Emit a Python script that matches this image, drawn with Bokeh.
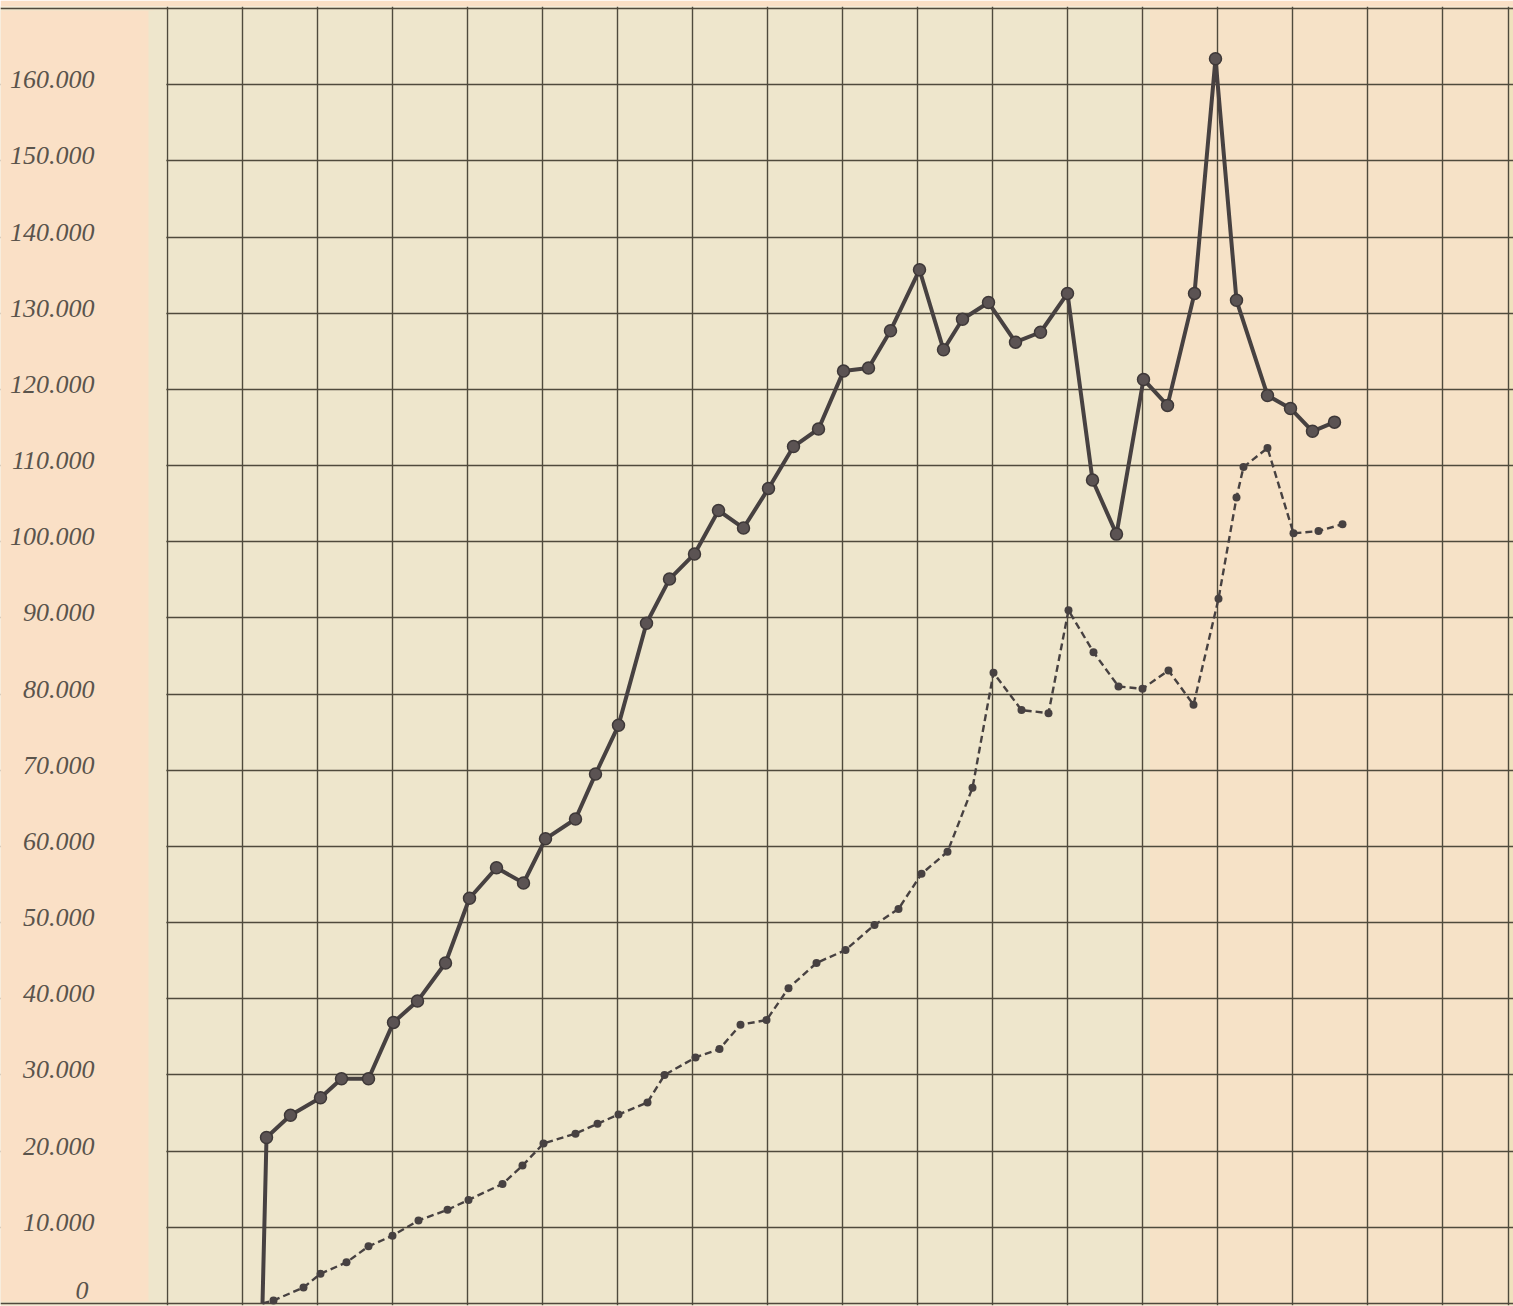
from bokeh.plotting import figure
from bokeh.models import Range1d, FixedTicker, BoxAnnotation, LabelSet, ColumnDataSource
from bokeh.embed import file_html
from bokeh.resources import INLINE

# ---- data ----
# x in "year steps" (one grid column = 3 steps)
solid_x = [3.8, 3.96, 4.92, 6.12, 6.96, 8.04, 9.04, 10.0, 11.12, 12.08, 13.16, 14.24,
           15.12, 16.32, 17.12, 18.04, 19.16, 20.08, 21.08, 22.04, 23.04, 24.04, 25.04,
           26.04, 27.04, 28.04, 28.92, 30.08, 31.04, 31.8, 32.84, 33.92, 34.92, 36.0,
           37.0, 37.96, 39.04, 40.0, 41.08, 41.92, 42.76, 44.0, 44.92, 45.8, 46.68]
solid_y = [0, 21800, 24700, 27000, 29500, 29500, 36900, 39700, 44700, 53200, 57200, 55200,
           61000, 63600, 69500, 75900, 89300, 95100, 98400, 104100, 101800, 107000, 112500,
           114800, 122400, 122800, 127700, 135700, 125200, 129200, 131400, 126200, 127500,
           132600, 108100, 101000, 121300, 117900, 132600, 163400, 131700, 119200, 117500,
           114500, 115700]

dashed_x = [3.8, 4.24, 5.44, 6.12, 7.16, 8.04, 9.0, 10.04, 11.2, 12.04, 13.4, 14.2, 15.04,
            16.32, 17.2, 18.04, 19.2, 19.88, 21.12, 22.08, 22.92, 23.96, 24.84, 25.96,
            27.12, 28.28, 29.24, 30.16, 31.2, 32.2, 33.04, 34.16, 35.24, 36.04, 37.04,
            38.04, 39.0, 40.04, 41.04, 42.04, 42.76, 43.04, 44.0, 45.04, 46.04, 47.0]
dashed_y = [0, 400, 2100, 3900, 5400, 7500, 8900, 10900, 12300, 13600, 15700, 18100, 21000,
            22300, 23600, 24800, 26400, 30000, 32300, 33400, 36600, 37200, 41400, 44700,
            46400, 49700, 51800, 56400, 59300, 67700, 82800, 77900, 77500, 91000, 85500,
            81000, 80700, 83100, 78600, 92500, 105800, 109800, 112300, 101100, 101400, 102300]

tick_values = [0, 10000, 20000, 30000, 40000, 50000, 60000, 70000, 80000, 90000,
               100000, 110000, 120000, 130000, 140000, 150000, 160000]
tick_labels = ["0", "10.000", "20.000", "30.000", "40.000", "50.000", "60.000", "70.000",
               "80.000", "90.000", "100.000", "110.000", "120.000", "130.000", "140.000",
               "150.000", "160.000"]
Y_TOP = 170000
X_END = 53.64                      # right edge of the ruled sheet
column_steps = [0, 3, 6, 9, 12, 15, 18, 21, 24, 27, 30, 33, 36, 39, 42, 45, 48, 51, X_END]

INK = "#474141"
GRID = "#4f4a3c"
PAPER = "#eee6cc"
PEACH = "#fae0c6"

PX_X = 25.0                       # pixels per x step
PX_Y = 1295.0 / Y_TOP             # pixels per unit of y
LEFT_COL = 167 / PX_X             # width of the label column, in x steps

p = figure(width=1513, height=1306, output_backend="svg", toolbar_location=None,
           x_range=Range1d(-LEFT_COL, X_END + 5 / PX_X),
           y_range=Range1d(-2 / PX_Y, Y_TOP + 2 / PX_Y),
           min_border_left=0, min_border_right=0, min_border_top=6, min_border_bottom=1)
p.background_fill_color = PAPER
p.border_fill_color = PEACH
p.outline_line_color = None

# peach tint of the paper on the right-hand side
p.add_layout(BoxAnnotation(left=39.3, right=X_END, fill_color="#fbe0c5", fill_alpha=0.65,
                           line_color=None, level="image"))
# page edge strip beyond the last rule
p.add_layout(BoxAnnotation(left=X_END + 0.03, fill_color="#efe2bd", fill_alpha=1.0,
                           line_color=None, level="image"))

p.xaxis.visible = False
p.yaxis.visible = False
p.xgrid.ticker = FixedTicker(ticks=column_steps)
p.ygrid.ticker = FixedTicker(ticks=tick_values + [Y_TOP])
for g in (p.xgrid, p.ygrid):
    g.grid_line_color = GRID
    g.grid_line_width = 1.4
    g.grid_line_alpha = 1.0

# label column: covers the inner rules, keeps the top and bottom rules running across
cover_b, cover_t = 2 / PX_Y, Y_TOP - 2 / PX_Y
p.add_layout(BoxAnnotation(right=-14 / PX_X, bottom=cover_b, top=cover_t,
                           fill_color=PEACH, fill_alpha=1.0, line_color=None))
p.add_layout(BoxAnnotation(left=-19 / PX_X, right=-1.2 / PX_X, bottom=cover_b, top=cover_t,
                           fill_color=PAPER, fill_alpha=1.0, line_color=None))

# value labels in the left column, sitting just above their rules
label_src = ColumnDataSource(dict(
    y=tick_values, text=tick_labels,
    dy=[13 if v == 0 else 5 for v in tick_values],
    dx=[-6 if v == 0 else 0 for v in tick_values]))
p.add_layout(LabelSet(x=-73 / PX_X, y="y", text="text", source=label_src,
                      x_offset="dx", y_offset="dy",
                      text_align="right", text_baseline="middle",
                      text_font="Liberation Serif", text_font_style="italic",
                      text_font_size="26px", text_color="#5a544c"))

# series
p.line(dashed_x, dashed_y, line_color=INK, line_width=2.4, line_dash="7 4")
p.scatter(dashed_x[1:], dashed_y[1:], size=8, fill_color=INK, line_color=None)

p.line(solid_x, solid_y, line_color=INK, line_width=4, line_join="round")
p.scatter(solid_x[1:], solid_y[1:], size=12, fill_color="#5b5353",
          line_color="#3e3838", line_width=1.5)

open("out.html", "w").write(file_html(p, INLINE))
